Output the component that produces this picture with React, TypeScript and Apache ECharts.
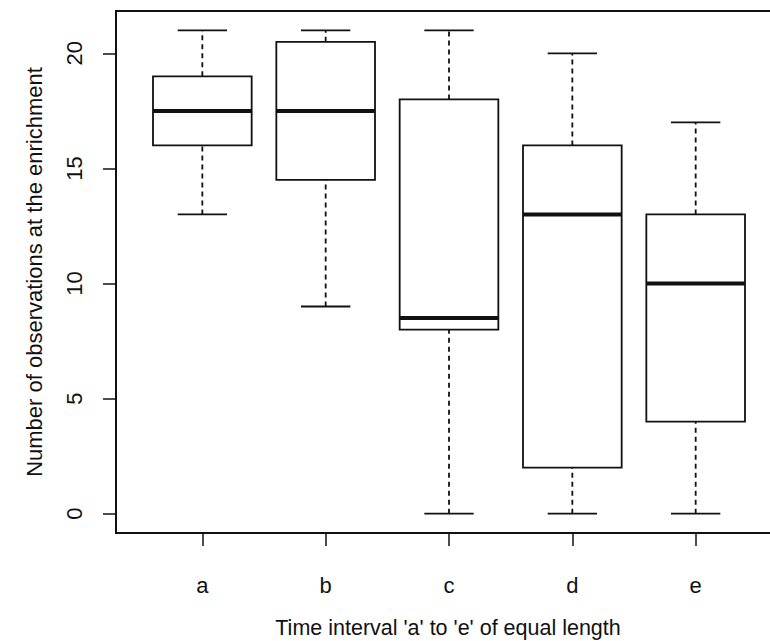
import React, { useEffect, useRef } from "react";
import * as echarts from "echarts";

const categories = ["a", "b", "c", "d", "e"];
const lowerWhisker = [13, 9, 0, 0, 0];
const lowerQuartile = [16, 14.5, 8, 2, 4];
const medians = [17.5, 17.5, 8.5, 13, 10];
const upperQuartile = [19, 20.5, 18, 16, 13];
const upperWhisker = [21, 21, 21, 20, 17];
const yTicks = [0, 5, 10, 15, 20];
const xTitle = "Time interval 'a' to 'e' of equal length";
const yTitle = "Number of observations at the enrichment";

const FONT = "'Liberation Sans', Arial, sans-serif";
const INK = "#111";

export default function App() {
  const ref = useRef<HTMLDivElement>(null);
  useEffect(() => {
    if (!ref.current) return;
    const chart = echarts.init(ref.current, null, { renderer: "svg" });
    const data = categories.map((_, i) => [
      i + 1,
      lowerWhisker[i],
      lowerQuartile[i],
      medians[i],
      upperQuartile[i],
      upperWhisker[i],
    ]);
    const xPos = categories.map((_, i) => i + 1);
    chart.setOption({
      animation: false,
      backgroundColor: "#fff",
      grid: {
        left: 116,
        top: 11,
        width: 666,
        height: 522,
        show: true,
        borderColor: INK,
        borderWidth: 2,
        backgroundColor: "transparent",
      },
      xAxis: {
        type: "value",
        min: 0.3,
        max: 5.7,
        axisLine: { show: false, onZero: false },
        splitLine: { show: false },
        axisTick: {
          show: true,
          length: 13,
          customValues: xPos,
          lineStyle: { color: INK, width: 1.5 },
        },
        axisLabel: {
          customValues: xPos,
          formatter: (v: number) => categories[Math.round(v) - 1] ?? "",
          fontFamily: FONT,
          fontSize: 22,
          color: INK,
          margin: 41,
        },
      },
      yAxis: {
        type: "value",
        min: -0.84,
        max: 21.84,
        axisLine: { show: false, onZero: false },
        splitLine: { show: false },
        axisTick: {
          show: true,
          length: 13,
          customValues: yTicks,
          lineStyle: { color: INK, width: 1.5 },
        },
        axisLabel: {
          customValues: yTicks,
          rotate: 90,
          fontFamily: FONT,
          fontSize: 22,
          color: INK,
          margin: 31,
        },
      },
      graphic: [
        {
          type: "text",
          x: 448,
          y: 628,
          style: {
            text: xTitle,
            fontFamily: FONT,
            fontSize: 21.5,
            fill: INK,
            textAlign: "center",
            textVerticalAlign: "middle",
          },
        },
        {
          type: "text",
          x: 34,
          y: 272,
          rotation: Math.PI / 2,
          style: {
            text: yTitle,
            fontFamily: FONT,
            fontSize: 22,
            fill: INK,
            textAlign: "center",
            textVerticalAlign: "middle",
          },
        },
      ],
      series: [
        {
          type: "custom",
          data,
          encode: { x: 0, y: [1, 2, 3, 4, 5] },
          renderItem: (params: any, api: any) => {
            const x = api.value(0);
            const lo = api.coord([x, api.value(1)]);
            const q1 = api.coord([x, api.value(2)]);
            const med = api.coord([x, api.value(3)]);
            const q3 = api.coord([x, api.value(4)]);
            const hi = api.coord([x, api.value(5)]);
            const cx = lo[0];
            const halfBox = api.size([0.4, 0])[0];
            const halfCap = api.size([0.2, 0])[0];
            const dashed = { stroke: INK, lineWidth: 1.8, lineDash: [5, 4] };
            const solid = { stroke: INK, lineWidth: 1.8 };
            return {
              type: "group",
              children: [
                { type: "line", shape: { x1: cx, y1: q3[1], x2: cx, y2: hi[1] }, style: dashed },
                { type: "line", shape: { x1: cx, y1: lo[1], x2: cx, y2: q1[1] }, style: dashed },
                { type: "line", shape: { x1: cx - halfCap, y1: hi[1], x2: cx + halfCap, y2: hi[1] }, style: solid },
                { type: "line", shape: { x1: cx - halfCap, y1: lo[1], x2: cx + halfCap, y2: lo[1] }, style: solid },
                {
                  type: "rect",
                  shape: { x: cx - halfBox, y: q3[1], width: halfBox * 2, height: q1[1] - q3[1] },
                  style: { fill: "#fff", stroke: INK, lineWidth: 1.8 },
                },
                {
                  type: "line",
                  shape: { x1: cx - halfBox, y1: med[1], x2: cx + halfBox, y2: med[1] },
                  style: { stroke: INK, lineWidth: 4 },
                },
              ],
            };
          },
        },
      ],
    });
    return () => chart.dispose();
  }, []);
  return (
    <div
      style={{
        position: "fixed",
        left: 0,
        top: 0,
        width: 770,
        height: 641,
        overflow: "hidden",
      }}
    >
      <div ref={ref} style={{ width: 800, height: 641 }} />
    </div>
  );
}
